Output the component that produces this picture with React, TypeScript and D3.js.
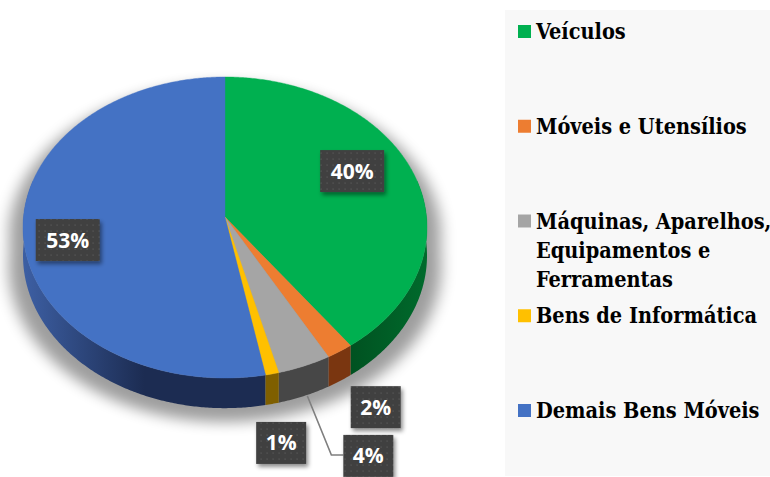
import React from "react";
import * as d3 from "d3";

// ---- data ----
const categories = [
  "Veículos",
  "Móveis e Utensílios",
  "Máquinas, Aparelhos, Equipamentos e Ferramentas",
  "Bens de Informática",
  "Demais Bens Móveis",
];
const values = [40, 2, 4, 1, 53];
const valueLabels = values.map((v) => `${v}%`);

// ---- styles ----
const topColors = ["#00B050", "#ED7D31", "#A5A5A5", "#FFC000", "#4472C4"];
const sideColors = [
  ["#006A2C", "#004E1F"],
  ["#8A4216", "#7A3610"],
  ["#555555", "#474747"],
  ["#8A6800", "#7F5F00"],
  ["#3D5FA3", "#1C2C52"],
];
// label anchor radius (fraction of pie radius) and pixel offsets
const labelRadius = [0.7, 1, 1, 1, 0.78];
const labelOffset = [
  [-5, -14],
  [36, 26],
  [64, 60],
  [9, 39],
  [0, 12],
];
const leaderLine = [false, false, true, false, false];

const W = 770;
const H = 477;
const CX = 225;
const CY = 217;
const A = 201.5;
const B = 149.8;
const K = 0.0698;
const D = 28;

function proj(theta: number, r: number, z: number): [number, number] {
  const u = r * Math.sin(theta);
  const v = -r * Math.cos(theta);
  const w = 1 - K * v;
  return [CX + (A * u) / w, CY + (B * v + z * D) / w];
}

function wrap(text: string, maxChars: number): string[] {
  const words = text.split(" ");
  const lines: string[] = [];
  let cur = "";
  for (const w of words) {
    const cand = cur ? cur + " " + w : w;
    if (cand.length > maxChars && cur) {
      lines.push(cur);
      cur = w;
    } else cur = cand;
  }
  if (cur) lines.push(cur);
  return lines;
}

export default function App() {
  const arcs = d3
    .pie<number>()
    .sort(null)
    .startAngle(0)
    .endAngle(2 * Math.PI)(values);

  const line = d3.line().curve(d3.curveLinearClosed);
  const step = Math.PI / 360;

  // top faces
  const tops = arcs.map((a, i) => {
    const pts: [number, number][] = [[CX, CY]];
    const n = Math.max(2, Math.ceil((a.endAngle - a.startAngle) / step));
    for (let j = 0; j <= n; j++) {
      const t = a.startAngle + ((a.endAngle - a.startAngle) * j) / n;
      pts.push(proj(t, 1, 0));
    }
    return { d: line(pts) as string, fill: topColors[i] };
  });

  // sides: one band per slice, limited to the front-visible part
  const visFrom = Math.PI / 2 - 0.25;
  const visTo = (3 * Math.PI) / 2 + 0.25;
  const sides = arcs
    .map((a, i) => {
      const s = Math.max(a.startAngle, visFrom);
      const e = Math.min(a.endAngle, visTo);
      if (e <= s) return null;
      const n = Math.max(2, Math.ceil((e - s) / step));
      const topPts: [number, number][] = [];
      const botPts: [number, number][] = [];
      for (let j = 0; j <= n; j++) {
        const t = s + ((e - s) * j) / n;
        topPts.push(proj(t, 1, 0));
        botPts.push(proj(t, 1, 1));
      }
      const pts = topPts.concat(botPts.reverse());
      const mid = (s + e) / 2;
      return { i, d: line(pts) as string, depth: -Math.cos(mid) };
    })
    .filter((x) => x !== null) as { i: number; d: string; depth: number }[];
  sides.sort((p, q) => p.depth - q.depth);

  // silhouette for shadow
  const sil: [number, number][] = [];
  for (let j = 0; j <= 720; j++) {
    const t = (j / 720) * 2 * Math.PI;
    const v = -Math.cos(t);
    sil.push(proj(t, 1, v > 0 ? 1 : 0));
  }

  // labels
  const labels = arcs.map((a, i) => {
    const mid = (a.startAngle + a.endAngle) / 2;
    const anchor = proj(mid, labelRadius[i], labelRadius[i] >= 1 ? 1 : 0);
    const cx = anchor[0] + labelOffset[i][0];
    const cy = anchor[1] + labelOffset[i][1];
    const text = valueLabels[i];
    const bw = 22 + 14 * text.length;
    const bh = 42;
    return { anchor, cx, cy, text, bw, bh, leader: leaderLine[i] };
  });

  // legend
  const legendY = d3.scalePoint<string>().domain(categories).range([39, 418]);

  const xLeft = CX - A;
  const xRight = CX + A;

  return (
    <svg
      width={W}
      height={H}
      style={{ position: "absolute", left: 0, top: 0, background: "#fff" }}
    >
      <defs>
        <filter id="blur" x="-20%" y="-20%" width="140%" height="140%">
          <feGaussianBlur stdDeviation="7" />
        </filter>
        <filter id="boxShadow" x="-30%" y="-30%" width="160%" height="160%">
          <feDropShadow dx="2" dy="3" stdDeviation="2" floodColor="#000" floodOpacity="0.45" />
        </filter>
        <pattern id="dots" width="6" height="6" patternUnits="userSpaceOnUse">
          <rect width="6" height="6" fill="#404040" />
          <rect x="2.5" y="2.5" width="1.2" height="1.2" fill="#5c5c5c" />
        </pattern>
        {sideColors.map((c, i) => (
          <linearGradient
            key={`g${i}`}
            id={`side${i}`}
            gradientUnits="userSpaceOnUse"
            x1={xLeft}
            y1={0}
            x2={xLeft + 0.6 * A}
            y2={0}
          >
            <stop offset="0" stopColor={c[0]} />
            <stop offset="1" stopColor={c[1]} />
          </linearGradient>
        ))}
        <linearGradient id="sideR" gradientUnits="userSpaceOnUse" x1={xRight} y1={0} x2={xRight - 0.5 * A} y2={0}>
          <stop offset="0" stopColor="#006A2C" />
          <stop offset="1" stopColor="#004A1D" />
        </linearGradient>
      </defs>

      {/* legend background */}
      <rect x={505} y={10} width={265} height={466} fill="#F8F8F8" />

      {/* shadow */}
      <g transform={`translate(${CX},${CY + 10}) scale(1.07,1.02) translate(${-CX},${-CY})`}>
        <path d={line(sil) as string} fill="#000" opacity={0.38} filter="url(#blur)" />
      </g>

      {/* sides */}
      {sides.map((s) => (
        <path
          key={`s${s.i}`}
          d={s.d}
          fill={s.i === 0 ? "url(#sideR)" : `url(#side${s.i})`}
        />
      ))}

      {/* tops */}
      {tops.map((t, i) => (
        <path key={`t${i}`} d={t.d} fill={t.fill} stroke={t.fill} strokeWidth={0.4} />
      ))}

      {/* leader lines */}
      {labels
        .filter((l) => l.leader)
        .map((l, i) => {
          const bx = l.cx - l.bw / 2;
          const pts: [number, number][] = [
            [l.anchor[0] + 3, l.anchor[1]],
            [bx - 12, l.cy - 1],
            [bx, l.cy - 1],
          ];
          return (
            <path
              key={`ll${i}`}
              d={d3.line()(pts) as string}
              fill="none"
              stroke="#7f7f7f"
              strokeWidth={1.5}
            />
          );
        })}

      {/* data labels */}
      {labels.map((l, i) => (
        <g key={`l${i}`}>
          <rect
            x={l.cx - l.bw / 2}
            y={l.cy - l.bh / 2}
            width={l.bw}
            height={l.bh}
            fill="url(#dots)"
            filter="url(#boxShadow)"
          />
          <text
            x={l.cx}
            y={l.cy}
            dy="0.36em"
            textAnchor="middle"
            fill="#fff"
            fontFamily="'Open Sans', Lato, sans-serif"
            fontWeight="bold"
            fontSize={21}
          >
            {l.text}
          </text>
        </g>
      ))}

      {/* legend */}
      {categories.map((c, i) => {
        const y = legendY(c) as number;
        const lines = wrap(c, 20);
        return (
          <g key={`lg${i}`}>
            <rect x={518} y={y - 14} width={13} height={13} fill={topColors[i]} />
            <text
              x={536}
              y={y}
              fill="#000"
              fontFamily="'DejaVu Serif', serif"
              fontWeight="bold"
              fontSize={21.5}
              style={{ fontStretch: "condensed" }}
            >
              {lines.map((ln, j) => (
                <tspan key={j} x={536} dy={j === 0 ? 0 : 29}>
                  {ln}
                </tspan>
              ))}
            </text>
          </g>
        );
      })}
    </svg>
  );
}
